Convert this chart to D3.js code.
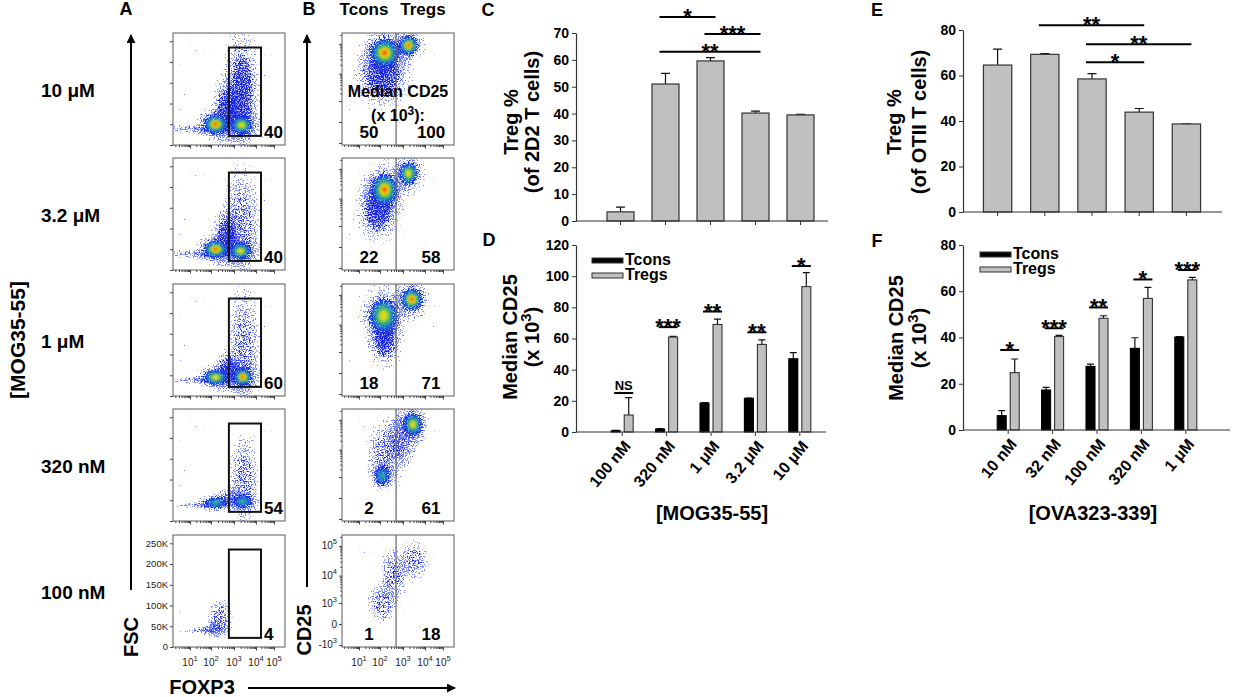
<!DOCTYPE html>
<html>
<head>
<meta charset="utf-8">
<script src="https://cdn.jsdelivr.net/npm/d3@7"></script>
<style>
  body { margin: 0; background: #fff; }
  text { font-family: "Liberation Sans", Arial, sans-serif; }
</style>
</head>
<body>
<svg id="fig" width="1234" height="697"></svg>
<script>
// ---------- data
// panel A / B rows, top to bottom
const rowDoses = ["10 μM", "3.2 μM", "1 μM", "320 nM", "100 nM"];
const gatePct = [40, 40, 60, 54, 4];
const medianTcons = [50, 22, 18, 2, 1];
const medianTregs = [100, 58, 71, 61, 18];
// FOXP3 gate (A) and Tcons/Tregs split (B)
const gateFoxp3 = [600, 19000];
const gateFsc = [22000, 235000];
const tregSplit = 500;
// density clouds: [log10 FOXP3, FSC (K), half width (decades), half height (K), density level]
const fscClouds = [
  [[1.3, 38, 0.75, 6, 0], [2.2, 50, 0.5, 22, 4], [2.65, 85, 0.35, 45, 1], [3.35, 48, 0.45, 20, 3], [3.35, 125, 0.45, 85, 1]],
  [[1.3, 38, 0.75, 6, 0], [2.2, 50, 0.5, 20, 4], [2.65, 80, 0.35, 40, 1], [3.3, 46, 0.45, 18, 3], [3.35, 110, 0.45, 75, 0]],
  [[1.3, 38, 0.7, 5, 0], [2.2, 45, 0.5, 17, 3], [2.75, 60, 0.35, 28, 1], [3.4, 46, 0.4, 20, 4], [3.45, 115, 0.4, 80, 0]],
  [[1.3, 38, 0.6, 4, 0], [2.2, 44, 0.45, 12, 2], [3.4, 47, 0.4, 14, 2], [2.8, 55, 0.3, 15, 0], [3.45, 100, 0.35, 60, 0]],
  [[1.6, 40, 0.5, 4, 0], [2.15, 43, 0.35, 10, 0], [2.4, 70, 0.3, 25, 0]]
];
// [log10 FOXP3, log10 CD25, half width, half height (decades), density level]
const cd25Clouds = [
  [[2.2, 4.7, 0.6, 0.45, 4], [3.25, 4.95, 0.4, 0.3, 4], [2.1, 3.9, 0.7, 0.6, 1]],
  [[2.2, 4.3, 0.55, 0.5, 4], [3.25, 4.85, 0.4, 0.35, 3], [1.9, 3.6, 0.55, 0.65, 1]],
  [[2.15, 4.3, 0.6, 0.55, 3], [3.4, 4.85, 0.45, 0.35, 4], [2.2, 3.5, 0.4, 0.6, 1]],
  [[3.45, 4.85, 0.4, 0.35, 3], [2.1, 3.05, 0.3, 0.35, 2], [2.3, 3.9, 0.5, 0.6, 0], [3.0, 4.4, 0.4, 0.5, 0]],
  [[2.1, 3.0, 0.35, 0.45, 0], [2.6, 4.0, 0.3, 0.5, 0], [3.5, 4.5, 0.35, 0.35, 0]]
];

// panels C / D
const mogDoses = ["100 nM", "320 nM", "1 μM", "3.2 μM", "10 μM"];
const tregPct2D2 = [3.4, 51, 59.6, 40.2, 39.5];
const tregPct2D2Err = [1.8, 4, 1.2, 0.7, 0.2];
const sig2D2 = [[1, 2, 76, "*"], [2, 3, 69.6, "***"], [1, 3, 63, "**"]];
const mogTcons = [0.8, 1.9, 18.6, 21.6, 47];
const mogTconsErr = [0.3, 0.3, 0.2, 0.2, 4];
const mogTregs = [10.9, 60.9, 69, 56.2, 93.3];
const mogTregsErr = [11.1, 0.4, 3.4, 2.9, 9];
const sigMog = [[0, 25, "NS"], [1, 67.3, "***"], [2, 77.3, "**"], [3, 64, "**"], [4, 106.5, "*"]];

// panels E / F
const ovaDoses = ["10 nM", "32 nM", "100 nM", "320 nM", "1 μM"];
const tregPctOTII = [64.6, 69.3, 58.5, 43.9, 38.7];
const tregPctOTIIErr = [7, 0.3, 2.3, 1.6, 0];
const sigOTII = [[1, 3, 82.1, "**"], [2, 4, 73.7, "**"], [2, 3, 65.8, "*"]];
const ovaTcons = [6.2, 17.3, 27.5, 35.3, 40.2];
const ovaTconsErr = [2.2, 1.1, 1, 4.6, 0.2];
const ovaTregs = [24.8, 40.4, 48.3, 56.9, 64.9];
const ovaTregsErr = [5.9, 0.5, 1.1, 4.8, 1.1];
const sigOva = [[0, 34.6, "*"], [1, 44, "***"], [2, 53, "**"], [3, 65.1, "*"], [4, 69.2, "***"]];

// ---------- setup
const svg = d3.select("#fig");
const defs = svg.append("defs");

function radial(id, stops) {
  defs.append("radialGradient").attr("id", id)
    .selectAll("stop").data(stops).join("stop")
    .attr("offset", d => d[0]).attr("stop-color", d => d[1]).attr("stop-opacity", d => d[2]);
}
radial("fade", [["0%", "#000", 1], ["60%", "#000", 0.85], ["100%", "#000", 0]]);
radial("wash", [["0%", "#1d2ce6", 0.35], ["60%", "#1d2ce6", 0.18], ["100%", "#1d2ce6", 0]]);
radial("core4", [["0%", "#d41a00", 1], ["14%", "#ff7c00", 1], ["30%", "#eee600", 0.95], ["50%", "#38cc4a", 0.85], ["75%", "#16b0d0", 0.45], ["100%", "#16b0d0", 0]]);
radial("core3", [["0%", "#f8b800", 1], ["20%", "#dcec10", 0.95], ["45%", "#3ccc50", 0.85], ["72%", "#18b0d0", 0.45], ["100%", "#18b0d0", 0]]);
radial("core2", [["0%", "#3ccf58", 0.9], ["40%", "#20bcb8", 0.65], ["100%", "#20a0e0", 0]]);

// grainy dots from noise, thinned where the cloud fades out
function speckle(id, seed, color) {
  const f = defs.append("filter").attr("id", id)
    .attr("x", "-10%").attr("y", "-10%").attr("width", "120%").attr("height", "120%");
  f.append("feTurbulence").attr("type", "fractalNoise").attr("baseFrequency", 0.8)
    .attr("numOctaves", 1).attr("seed", seed).attr("result", "noise");
  f.append("feComposite").attr("in", "SourceAlpha").attr("in2", "noise").attr("operator", "arithmetic")
    .attr("k1", 0).attr("k2", 7).attr("k3", 16).attr("k4", -12.4).attr("result", "mask");
  f.append("feFlood").attr("flood-color", color).attr("result", "paint");
  f.append("feComposite").attr("in", "paint").attr("in2", "mask").attr("operator", "in");
}
speckle("speckHalo", 7, "#7080ff");
speckle("speckBody", 3, "#1a28e0");
defs.append("filter").attr("id", "soft").append("feGaussianBlur").attr("stdDeviation", 1.3);

defs.append("marker").attr("id", "arrow").attr("viewBox", "0 0 10 10")
  .attr("refX", 9).attr("refY", 5).attr("markerUnits", "userSpaceOnUse")
  .attr("markerWidth", 9).attr("markerHeight", 9).attr("orient", "auto")
  .append("path").attr("d", "M0,0L10,5L0,10z").attr("fill", "#000");

function label(x, y, s, size, anchor = "start", weight = "bold") {
  return svg.append("text").attr("x", x).attr("y", y).text(s)
    .attr("font-size", size).attr("font-weight", weight).attr("text-anchor", anchor);
}
function sup(text, base, power, shift) {
  text.append("tspan").text(base);
  text.append("tspan").attr("dy", -shift).attr("font-size", "75%").text(power);
  return text;
}

// ---------- panels A and B: flow plots
const flowTops = [33, 158, 284, 409, 535];
const flowW = 112, flowH = 112;
const bodyAlpha = [0.5, 0.8, 1, 1, 1];
const foxp3Decades = [10, 100, 1000, 10000, 100000];
let clipN = 0;

function flowPlot(left, top, clouds, kind, last) {
  const g = svg.append("g").attr("transform", `translate(${left},${top})`);
  const x = d3.scaleLog().domain(foxp3Decades).range([17, 38, 61, 83, 101]);
  let y, yOf;
  if (kind === "fsc") {
    y = d3.scaleLinear().domain([0, 270000]).range([flowH, 0]);
    yOf = v => v * 1000;
  } else {
    y = d3.scaleSymlog().constant(250).domain([-1210, 231000]).range([flowH, 0]);
    yOf = v => Math.pow(10, v);
  }
  const shape = clouds.map(c => ({
    cx: x(10 ** c[0]),
    cy: y(yOf(c[1])),
    rx: (x(10 ** (c[0] + c[2])) - x(10 ** (c[0] - c[2]))) / 2,
    ry: Math.abs(y(yOf(c[1] - c[3])) - y(yOf(c[1] + c[3]))) / 2,
    level: c[4]
  }));

  const id = "fclip" + clipN++;
  defs.append("clipPath").attr("id", id).append("rect").attr("width", flowW).attr("height", flowH);
  const area = g.append("g").attr("clip-path", `url(#${id})`);
  area.append("rect").attr("width", flowW).attr("height", flowH).attr("fill", "#fff");

  const blob = (sel, k) => sel.attr("cx", d => d.cx).attr("cy", d => d.cy)
    .attr("rx", d => d.rx * k).attr("ry", d => d.ry * k);
  area.append("g").attr("filter", "url(#speckHalo)")
    .selectAll("ellipse").data(shape).join("ellipse").call(blob, 2.3)
    .attr("fill", "url(#fade)").attr("fill-opacity", 0.6);
  area.append("g")
    .selectAll("ellipse").data(shape.filter(d => d.level >= 1)).join("ellipse").call(blob, 1.25)
    .attr("fill", "url(#wash)");
  area.append("g").attr("filter", "url(#speckBody)")
    .selectAll("ellipse").data(shape).join("ellipse").call(blob, 1.5)
    .attr("fill", "url(#fade)").attr("fill-opacity", d => bodyAlpha[d.level]);
  area.append("g").attr("filter", "url(#soft)")
    .selectAll("ellipse").data(shape.filter(d => d.level >= 2)).join("ellipse").call(blob, 1.05)
    .attr("fill", d => `url(#core${d.level})`);

  g.append("rect").attr("width", flowW).attr("height", flowH)
    .attr("fill", "none").attr("stroke", "#5a5a5a").attr("stroke-width", 1);

  // ticks
  const minor = [];
  for (let k = 0; k <= 4; k++) for (let m = 2; m <= 9; m++) minor.push(m * 10 ** k);
  const tickCol = "#444";
  g.append("g").attr("transform", `translate(0,${flowH})`).attr("color", tickCol)
    .call(d3.axisBottom(x).tickValues(foxp3Decades).tickSize(3.5).tickFormat(""))
    .call(a => a.select(".domain").remove());
  g.append("g").attr("transform", `translate(0,${flowH})`).attr("color", tickCol)
    .call(d3.axisBottom(x).tickValues(minor.filter(v => x(v) > 1 && x(v) < flowW)).tickSize(2).tickFormat(""))
    .call(a => a.select(".domain").remove());
  const yTicks = kind === "fsc" ? [0, 50000, 100000, 150000, 200000, 250000] : [-1000, 0, 1000, 10000, 100000];
  g.append("g").attr("color", tickCol)
    .call(d3.axisLeft(y).tickValues(yTicks).tickSize(3).tickFormat(""))
    .call(a => a.select(".domain").remove());
  if (kind !== "fsc") {
    const yMinor = [];
    for (let k = 3; k <= 4; k++) for (let m = 2; m <= 9; m++) yMinor.push(m * 10 ** k);
    g.append("g").attr("color", tickCol)
      .call(d3.axisLeft(y).tickValues(yMinor.concat([200000])).tickSize(1.8).tickFormat(""))
      .call(a => a.select(".domain").remove());
  }

  if (last) {
    foxp3Decades.forEach(d => {
      const t = g.append("text").attr("x", x(d)).attr("y", flowH + 19)
        .attr("text-anchor", "middle").attr("font-size", 10).attr("fill", "#222");
      sup(t, "10", String(Math.log10(d)), 5);
    });
    if (kind === "fsc") {
      g.selectAll("text.fy").data(yTicks).join("text").attr("class", "fy")
        .attr("x", -5).attr("y", d => y(d)).attr("dy", "0.35em")
        .attr("text-anchor", "end").attr("font-size", 9.5).attr("fill", "#222")
        .text(d => d === 0 ? "0" : d / 1000 + "K");
    } else {
      yTicks.forEach(d => {
        const t = g.append("text").attr("x", -5).attr("y", y(d) + 3.5)
          .attr("text-anchor", "end").attr("font-size", 10).attr("fill", "#222");
        if (d === 0) t.text("0");
        else sup(t, d < 0 ? "-10" : "10", String(Math.log10(Math.abs(d))), 5);
      });
    }
  }
  return { g, x, y };
}

flowTops.forEach((top, i) => {
  const last = i === flowTops.length - 1;
  // A: FSC vs FOXP3 with the FOXP3+ gate
  const a = flowPlot(173, top, fscClouds[i], "fsc", last);
  const gx0 = a.x(gateFoxp3[0]), gx1 = a.x(gateFoxp3[1]);
  a.g.append("rect").attr("x", gx0).attr("y", a.y(gateFsc[1]))
    .attr("width", gx1 - gx0).attr("height", a.y(gateFsc[0]) - a.y(gateFsc[1]))
    .attr("fill", "none").attr("stroke", "#111").attr("stroke-width", 2);
  a.g.append("text").attr("x", gx1 + 3).attr("y", 105).text(gatePct[i])
    .attr("font-size", 17).attr("font-weight", "bold");
  label(41, top + 64, rowDoses[i], 19);

  // B: CD25 vs FOXP3 split into Tcons / Tregs
  const b = flowPlot(342, top, cd25Clouds[i], "cd25", last);
  const sx = b.x(tregSplit);
  b.g.append("line").attr("x1", sx).attr("x2", sx).attr("y1", 0).attr("y2", flowH)
    .attr("stroke", "#666").attr("stroke-width", 1.2);
  b.g.append("text").attr("x", sx / 2).attr("y", 105).attr("text-anchor", "middle")
    .text(medianTcons[i]).attr("font-size", 17).attr("font-weight", "bold");
  b.g.append("text").attr("x", sx + 35).attr("y", 105).attr("text-anchor", "middle")
    .text(medianTregs[i]).attr("font-size", 17).attr("font-weight", "bold");
  if (i === 0) {
    b.g.append("text").attr("x", 56).attr("y", 64).attr("text-anchor", "middle")
      .text("Median CD25").attr("font-size", 16).attr("font-weight", "bold");
    const t = b.g.append("text").attr("x", 56).attr("y", 88).attr("text-anchor", "middle")
      .attr("font-size", 16).attr("font-weight", "bold");
    sup(t, "(x 10", "3", 6);
    t.append("tspan").attr("dy", 6).text("):");
  }
});

// headers, arrows and axis names of A / B
label(126, 15, "A", 18, "middle");
label(309, 15, "B", 18, "middle");
label(364, 15, "Tcons", 17, "middle");
label(423, 15, "Tregs", 17, "middle");
svg.append("line").attr("x1", 131).attr("y1", 590).attr("x2", 131).attr("y2", 35)
  .attr("stroke", "#000").attr("stroke-width", 2).attr("marker-end", "url(#arrow)");
svg.append("line").attr("x1", 307).attr("y1", 587).attr("x2", 307).attr("y2", 35)
  .attr("stroke", "#000").attr("stroke-width", 2).attr("marker-end", "url(#arrow)");
svg.append("line").attr("x1", 248).attr("y1", 688).attr("x2", 455).attr("y2", 688)
  .attr("stroke", "#000").attr("stroke-width", 2).attr("marker-end", "url(#arrow)");
label(202, 694, "FOXP3", 20, "middle");
svg.append("text").attr("transform", "translate(138,637) rotate(-90)").attr("text-anchor", "middle")
  .attr("font-size", 20).attr("font-weight", "bold").text("FSC");
svg.append("text").attr("transform", "translate(311,630) rotate(-90)").attr("text-anchor", "middle")
  .attr("font-size", 20).attr("font-weight", "bold").text("CD25");
svg.append("text").attr("transform", "translate(25,340) rotate(-90)").attr("text-anchor", "middle")
  .attr("font-size", 21).attr("font-weight", "bold").text("[MOG35-55]");

// ---------- bar charts
function yAxis(g, y, axisX, ticks) {
  g.append("g").attr("transform", `translate(${axisX},0)`).attr("color", "#333")
    .call(d3.axisLeft(y).tickValues(ticks).tickSize(4).tickSizeOuter(0).tickPadding(3))
    .call(a => a.select(".domain").attr("stroke-width", 1.2))
    .call(a => a.selectAll("text").attr("fill", "#000").attr("font-size", 14)
      .attr("font-weight", "bold").attr("font-family", null));
}
function xAxis(g, x, y, axisX, axisEnd, rotated) {
  g.append("line").attr("x1", axisX).attr("x2", axisEnd).attr("y1", y(0)).attr("y2", y(0))
    .attr("stroke", "#333").attr("stroke-width", 1.2);
  const ax = g.append("g").attr("transform", `translate(0,${y(0)})`).attr("color", "#333")
    .call(d3.axisBottom(x).tickSize(4).tickSizeOuter(0).tickFormat(rotated ? null : ""))
    .call(a => a.select(".domain").remove());
  if (rotated) {
    ax.selectAll("text").attr("fill", "#000").attr("font-size", 16).attr("font-weight", "bold")
      .attr("font-family", null).attr("text-anchor", "end")
      .attr("y", 0).attr("dy", "0.35em").attr("transform", "translate(5,11) rotate(-50)");
  }
}
function errorBars(g, pts, y, cap) {
  g.selectAll(null).data(pts).join("path")
    .attr("d", d => `M${d.cx},${y(d.v)}V${y(d.v + d.e)}M${d.cx - cap / 2},${y(d.v + d.e)}H${d.cx + cap / 2}`)
    .attr("stroke", "#111").attr("stroke-width", 1.2).attr("fill", "none");
}
function sigMark(g, x1, x2, yy, s) {
  g.append("line").attr("x1", x1).attr("x2", x2).attr("y1", yy).attr("y2", yy)
    .attr("stroke", "#000").attr("stroke-width", 2);
  const ns = s === "NS";
  g.append("text").attr("x", (x1 + x2) / 2).attr("y", ns ? yy - 3 : yy + 7)
    .attr("text-anchor", "middle").attr("font-size", ns ? 13 : 22).attr("font-weight", "bold").text(s);
}
function yTitle(x1, x2, cy, line1, line2) {
  svg.append("text").attr("transform", `translate(${x1},${cy}) rotate(-90)`).attr("text-anchor", "middle")
    .attr("font-size", 20).attr("font-weight", "bold").text(line1);
  const t = svg.append("text").attr("transform", `translate(${x2},${cy}) rotate(-90)`).attr("text-anchor", "middle")
    .attr("font-size", 20).attr("font-weight", "bold");
  if (line2 === "cd25") {
    sup(t, "(x 10", "3", 8);
    t.append("tspan").attr("dy", 8).text(")");
  } else t.text(line2);
}

function barChart(o) {
  const g = svg.append("g");
  const x = d3.scaleBand().domain(o.cats).range(o.xRange).paddingInner(0.4).paddingOuter(0.2);
  const y = d3.scaleLinear().domain(o.yDomain).range(o.yRange);
  const rows = o.cats.map((c, i) => ({ c, v: o.values[i], e: o.errors[i], cx: x(c) + x.bandwidth() / 2 }));
  errorBars(g, rows, y, 9);
  g.selectAll("rect.bar").data(rows).join("rect").attr("class", "bar")
    .attr("x", d => x(d.c)).attr("y", d => y(d.v))
    .attr("width", x.bandwidth()).attr("height", d => y(0) - y(d.v))
    .attr("fill", "#c0c0c0").attr("stroke", "#333").attr("stroke-width", 1.2);
  yAxis(g, y, o.axisX, o.ticks);
  xAxis(g, x, y, o.axisX, o.axisEnd, false);
  o.sig.forEach(s => sigMark(g, rows[s[0]].cx - 6, rows[s[1]].cx + 5, y(s[2]), s[3]));
}

function groupedChart(o) {
  const g = svg.append("g");
  const x0 = d3.scaleBand().domain(o.cats).range(o.xRange);
  const x1 = d3.scaleBand().domain(["Tcons", "Tregs"]).range([-11, 11]).paddingInner(0.31);
  const y = d3.scaleLinear().domain(o.yDomain).range(o.yRange);
  const center = c => x0(c) + x0.bandwidth() / 2;
  const series = [
    { key: "Tcons", values: o.tcons, errors: o.tconsErr, fill: "#000" },
    { key: "Tregs", values: o.tregs, errors: o.tregsErr, fill: "#c0c0c0" }
  ];
  series.forEach(s => {
    const rows = o.cats.map((c, i) => ({ c, v: s.values[i], e: s.errors[i], cx: center(c) + x1(s.key) + x1.bandwidth() / 2 }));
    errorBars(g, rows, y, 7);
    g.selectAll(null).data(rows).join("rect")
      .attr("x", d => center(d.c) + x1(s.key)).attr("y", d => y(d.v))
      .attr("width", x1.bandwidth()).attr("height", d => y(0) - y(d.v))
      .attr("fill", s.fill).attr("stroke", s.key === "Tcons" ? "#000" : "#333").attr("stroke-width", 1.1);
  });
  yAxis(g, y, o.axisX, o.ticks);
  xAxis(g, x0, y, o.axisX, o.axisEnd, true);
  o.sig.forEach(s => sigMark(g, center(o.cats[s[0]]) - 8, center(o.cats[s[0]]) + 11, y(s[1]), s[2]));
  // legend
  const lg = g.append("g").attr("transform", `translate(${o.legend[0]},${o.legend[1]})`);
  series.forEach((s, i) => {
    lg.append("rect").attr("x", 0).attr("y", i * 15).attr("width", 31).attr("height", 5)
      .attr("fill", s.fill).attr("stroke", "#333").attr("stroke-width", 1);
    lg.append("text").attr("x", 33).attr("y", i * 15 + 7).text(s.key)
      .attr("font-size", 16).attr("font-weight", "bold");
  });
}

// C
label(488, 16, "C", 18, "middle");
barChart({
  cats: mogDoses, values: tregPct2D2, errors: tregPct2D2Err, sig: sig2D2,
  yDomain: [0, 70], yRange: [221, 33], ticks: d3.range(0, 71, 10),
  xRange: [598, 823], axisX: 576, axisEnd: 828
});
yTitle(518, 539, 122, "Treg %", "(of 2D2 T cells)");

// D
label(489, 246, "D", 18, "middle");
groupedChart({
  cats: mogDoses, tcons: mogTcons, tconsErr: mogTconsErr, tregs: mogTregs, tregsErr: mogTregsErr, sig: sigMog,
  yDomain: [0, 120], yRange: [432, 245], ticks: d3.range(0, 121, 20),
  xRange: [600, 822], axisX: 576, axisEnd: 826, legend: [592, 258]
});
yTitle(517, 539, 337, "Median CD25", "cd25");
label(712, 520, "[MOG35-55]", 20, "middle");

// E
label(877, 16, "E", 18, "middle");
barChart({
  cats: ovaDoses, values: tregPctOTII, errors: tregPctOTIIErr, sig: sigOTII,
  yDomain: [0, 80], yRange: [212, 30], ticks: d3.range(0, 81, 20),
  xRange: [974, 1210], axisX: 963, axisEnd: 1222
});
yTitle(901, 926, 122, "Treg %", "(of OTII T cells)");

// F
label(877, 247, "F", 18, "middle");
groupedChart({
  cats: ovaDoses, tcons: ovaTcons, tconsErr: ovaTconsErr, tregs: ovaTregs, tregsErr: ovaTregsErr, sig: sigOva,
  yDomain: [0, 80], yRange: [430, 245], ticks: d3.range(0, 81, 20),
  xRange: [986, 1208], axisX: 963, axisEnd: 1230, legend: [980, 252]
});
yTitle(903, 926, 338, "Median CD25", "cd25");
label(1093, 520, "[OVA323-339]", 20, "middle");
</script>
</body>
</html>
